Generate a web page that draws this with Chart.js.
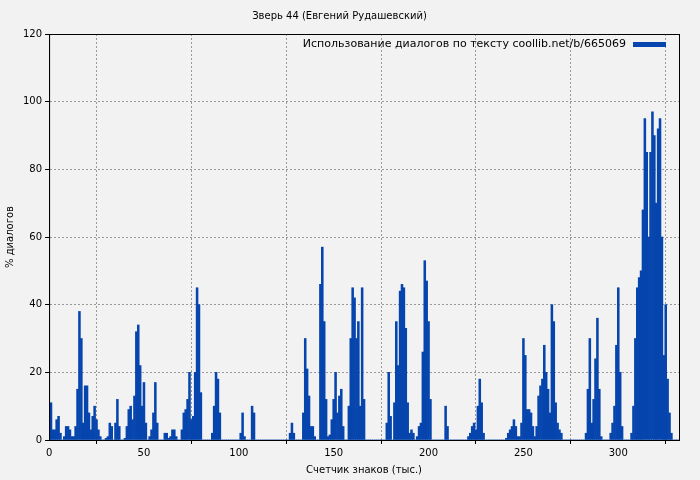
<!DOCTYPE html>
<html><head><meta charset="utf-8">
<script src="https://cdn.jsdelivr.net/npm/chart.js@4"></script>
<style>body{margin:0;background:#f2f2f2}#w{width:700px;height:480px}</style>
</head><body><div id="w"><canvas id="c"></canvas></div>
<script>
const title = 'Зверь 44 (Евгений Рудашевский)';
const seriesLabel = 'Использование диалогов по тексту coollib.net/b/665069';
const xTicks = [0, 50, 100, 150, 200, 250, 300];
const yTicks = [0, 20, 40, 60, 80, 100, 120];
const values = [
 10,11,3,3,6,7,2,0,1,4,
 4,3,1,1,4,15,38,30,5,16,
 16,8,3,7,10,6,3,1,0,0,
 0.5,1,5,4,0,5,12,4,0,0,
 0.5,4,9,10,6,13,32,34,22,10,
 17,5,0,1,3,8,17,5,0,0,
 0,2,2,0.5,1,3,3,1,0,0,
 3,8,9,12,20,6,7,20,45,40,
 14,0,0,0,0,0,2,10,20,18,
 8,0,0,0,0,0,0,0,0,0,
 0,2,8,1,0,0,0,10,8,0,
 0,0,0,0,0,0,0,0,0,0,
 0,0,0,0,0,0,0,2,5,2,
 0,0,0,0,8,30,21,13,4,4,
 1,0,0,46,57,35,12,1,1.5,6,
 12,20,8,13,15,4,0,0,10,30,
 45,42,30,35,10,45,12,0,0,0,
 0,0,0,0,0,0,0,0,5,20,
 7,0,11,35,22,44,46,45,33,11,
 2,3,2,0,1,4,5,26,53,47,
 35,12,0,0,0,0,0,0,0,10,
 4,0,0,0,0,0,0,0,0,0,
 0,1,2,4,5,3,10,18,11,2,
 0,0,0,0,0,0,0,0,0,0,
 0,0.5,2,3,4,6,4,1,1,5,
 30,25,9,9,8,4,1,4,13,16,
 18,28,20,15,8,40,35,11,5,3,
 2,0,0,0,0,0,0,0,0,0,
 0,0,0,2,15,30,5,12,24,36,
 15,1,0,0,0,0,2,5,10,28,
 45,20,4,0,0,0,0,2,10,30,
 45,48,50,68,95,85,60,85,97,90,
 70,92,95,60,25,40,18,8,2,0,
 0,0,0
];
const barColor = '#0645AD';

const frame = {
  id: 'frame',
  afterDraw(chart) {
    const {ctx, chartArea: a} = chart;
    ctx.save();
    ctx.strokeStyle = '#000'; ctx.lineWidth = 1;
    ctx.strokeRect(a.left + 0.5, a.top + 0.5, a.right - a.left, a.bottom - a.top);
    ctx.font = '11px "DejaVu Sans"'; ctx.fillStyle = '#000';
    ctx.textAlign = 'right'; ctx.textBaseline = 'middle';
    ctx.fillText(seriesLabel, a.right - 53, a.top + 10);
    ctx.fillStyle = barColor;
    ctx.fillRect(a.right - 46, a.top + 8, 33, 5);
    ctx.restore();
  }
};

new Chart(document.getElementById('c'), {
  type: 'bar',
  data: {
    datasets: [{
      label: seriesLabel,
      data: values.map((v, i) => ({x: i, y: v})),
      backgroundColor: barColor,
      barPercentage: 1, categoryPercentage: 1
    }]
  },
  options: {
    animation: false, responsive: true, maintainAspectRatio: false,
    layout: {padding: {left: 0, right: 21, top: 0, bottom: 0}},
    plugins: {
      legend: {display: false},
      tooltip: {enabled: false},
      title: {display: true, text: title, color: '#000', font: {family: 'DejaVu Sans', size: 10, weight: 'normal'}, padding: {top: 10, bottom: 12}}
    },
    scales: {
      x: {
        type: 'linear', min: 0, max: 332, offset: false,
        afterBuildTicks: s => { s.ticks = xTicks.map(v => ({value: v})); },
        ticks: {color: '#000', font: {family: 'DejaVu Sans', size: 10}, maxRotation: 0},
        grid: {color: '#999', tickColor: '#000', tickLength: 4},
        border: {display: true, color: '#000', dash: [2, 2]},
        title: {display: true, text: 'Счетчик знаков (тыс.)', color: '#000', font: {family: 'DejaVu Sans', size: 10}, padding: {top: 2}}
      },
      y: {
        min: 0, max: 120,
        afterBuildTicks: s => { s.ticks = yTicks.map(v => ({value: v})); },
        ticks: {color: '#000', font: {family: 'DejaVu Sans', size: 10}},
        grid: {color: '#999', tickColor: '#000', tickLength: 4},
        border: {display: true, color: '#000', dash: [2, 2]},
        title: {display: true, text: '% диалогов', color: '#000', font: {family: 'DejaVu Sans', size: 10}}
      }
    }
  },
  plugins: [frame]
});
</script></body></html>
